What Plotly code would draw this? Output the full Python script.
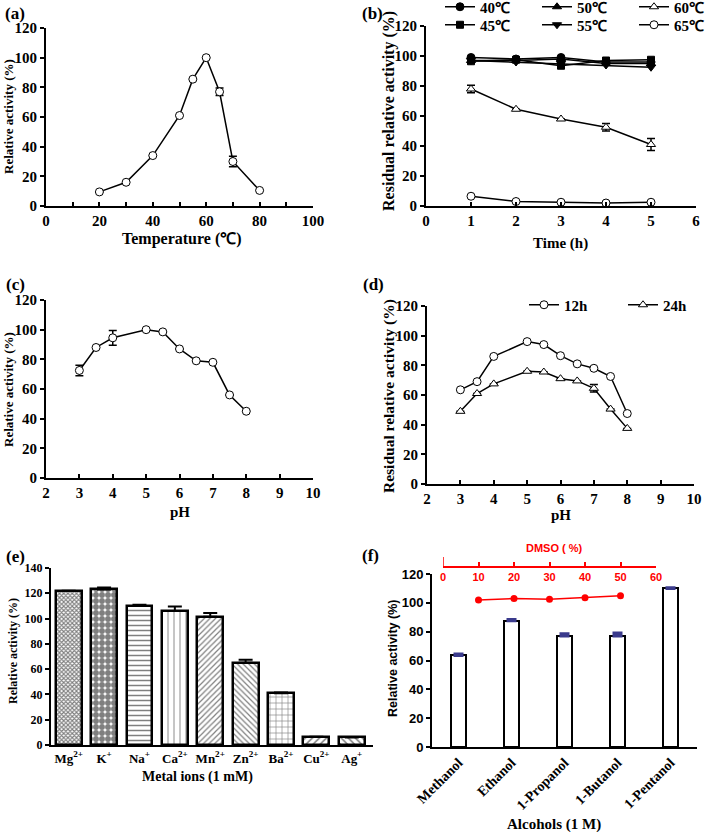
import plotly.graph_objects as go

W, H = 705, 832
def px(x):
    return x / W
def py(y):
    return 1 - y / H

SERIF = "Liberation Serif"
SANS = "Liberation Sans"

# ---------------- data ----------------
temp_x = [20, 30, 40, 50, 55, 60, 65, 70, 80]
temp_y = [9.5, 16, 34, 61, 85.5, 100, 77, 30, 10.5]
temp_err = [0, 0, 0, 0, 0, 0, 2.5, 3.5, 0]

time_h = [1, 2, 3, 4, 5]
stab_40 = [99, 98, 99, 96, 96]
stab_45 = [96.5, 97.5, 93.5, 97, 97.5]
stab_50 = [97, 97, 98, 95, 95]
stab_55 = [97, 96, 95, 94, 92.5]
stab_60 = [78, 64.5, 58, 52.5, 41]
stab_60_err = [2.5, 0, 0, 2.5, 4]
stab_65 = [6.5, 3, 2.5, 2, 2.5]

ph_x = [3, 3.5, 4, 5, 5.5, 6, 6.5, 7, 7.5, 8]
ph_act = [72.5, 88, 94.5, 100, 98.5, 87, 79, 78, 56, 45]
ph_act_err = [3.5, 0, 5, 0, 0, 0, 0, 0, 0, 0]
ph_12h = [63.5, 69, 86, 96, 94, 86.5, 81, 78, 72.5, 47.5]
ph_24h = [49, 61, 67.5, 76, 75.5, 71, 69.5, 64.5, 50.5, 37.5]
ph_24h_err = [0, 0, 0, 0, 0, 0, 0, 2.5, 0, 0]
ph_ticks = [2, 3, 4, 5, 6, 7, 8, 9, 10]

metal_labels = ["Mg<sup>2+</sup>", "K<sup>+</sup>", "Na<sup>+</sup>", "Ca<sup>2+</sup>",
                "Mn<sup>2+</sup>", "Zn<sup>2+</sup>", "Ba<sup>2+</sup>", "Cu<sup>2+</sup>",
                "Ag<sup>+</sup>"]
metal_act = [122, 123, 110, 106, 101.5, 65, 41, 6.5, 6]
metal_err = [0, 1.5, 1, 3.5, 3, 2.5, 0.5, 0, 0]

alcohols = ["Methanol", "Ethanol", "1-Propanol", "1-Butanol", "1-Pentanol"]
alcohol_act = [63.5, 87.5, 77, 77, 110]
alcohol_err = [1, 1, 1.5, 2, 0.5]

dmso_pct = [10, 20, 30, 40, 50]
dmso_act = [102, 103, 102.5, 103.5, 105]

# ---------------- figure ----------------
fig = go.Figure()

def err(arr, w=4, t=1.5, color="black", up_only=False):
    d = dict(type="data", array=arr, visible=True, color=color, thickness=t, width=w)
    if up_only:
        d.update(symmetric=False, arrayminus=[0] * len(arr))
    return d

LINE = dict(color="black", width=1.5)
def mk(symbol, fill, size=8):
    return dict(symbol=symbol, size=size, color=fill, line=dict(color="black", width=1))

# (a)
fig.add_trace(go.Scatter(x=temp_x, y=temp_y, mode="lines+markers", line=LINE,
                         marker=mk("circle", "white"), error_y=err(temp_err),
                         xaxis="x", yaxis="y", showlegend=False))

# (b)
series_b = [
    ("40℃", stab_40, "circle", "black", None, "legend"),
    ("50℃", stab_50, "triangle-up", "black", None, "legend"),
    ("60℃", stab_60, "triangle-up", "white", stab_60_err, "legend"),
    ("45℃", stab_45, "square", "black", None, "legend2"),
    ("55℃", stab_55, "triangle-down", "black", None, "legend2"),
    ("65℃", stab_65, "circle", "white", None, "legend2"),
]
for name, vals, sym, fill, e, lg in series_b:
    fig.add_trace(go.Scatter(x=time_h, y=vals, name=name, mode="lines+markers", line=LINE,
                             marker=mk(sym, fill, 8 if sym != "square" else 7),
                             error_y=err(e) if e else None,
                             xaxis="x2", yaxis="y2", legend=lg))

# (c)
fig.add_trace(go.Scatter(x=ph_x, y=ph_act, mode="lines+markers", line=LINE,
                         marker=mk("circle", "white"), error_y=err(ph_act_err),
                         xaxis="x3", yaxis="y3", showlegend=False))

# (d)
fig.add_trace(go.Scatter(x=ph_x, y=ph_12h, name="12h", mode="lines+markers", line=LINE,
                         marker=mk("circle", "white"), xaxis="x4", yaxis="y4", legend="legend3"))
fig.add_trace(go.Scatter(x=ph_x, y=ph_24h, name="24h", mode="lines+markers", line=LINE,
                         marker=mk("triangle-up", "white"), error_y=err(ph_24h_err),
                         xaxis="x4", yaxis="y4", legend="legend3"))

# (e)
fig.add_trace(go.Bar(x=metal_labels, y=metal_act, width=0.73,
                     marker=dict(color="white", line=dict(color="black", width=2.5),
                                 pattern=dict(shape=["x", ".", "-", "|", "/", "\\", "+", "/", "\\"],
                                              size=[3, 6, 5, 6, 4, 4, 6, 5, 5],
                                              solidity=[0.6, 0.75, 0.3, 0.15, 0.3, 0.3, 0.2, 0.3, 0.3],
                                              fgcolor="black", bgcolor="white")),
                     error_y=err(metal_err, w=7, t=2, up_only=True),
                     xaxis="x5", yaxis="y5", showlegend=False))

# (f)
fig.add_trace(go.Bar(x=alcohols, y=alcohol_act, width=0.30,
                     marker=dict(color="white", line=dict(color="black", width=2)),
                     error_y=err(alcohol_err, w=5, t=3, color="#3a3a8c", up_only=True),
                     xaxis="x6", yaxis="y6", showlegend=False))
fig.add_trace(go.Scatter(x=dmso_pct, y=dmso_act, mode="lines+markers",
                         line=dict(color="red", width=1.5),
                         marker=dict(symbol="circle", size=7, color="red"),
                         xaxis="x7", yaxis="y6", showlegend=False))

# ---------------- axes ----------------
def tfont(size=15, fam=SERIF, color="black"):
    return dict(family=fam, size=size, color=color, weight="bold")

base = dict(showline=True, linecolor="black", linewidth=2, showgrid=False, zeroline=False,
            ticks="inside", ticklen=4, tickwidth=1.5, tickcolor="black", mirror=False,
            automargin=False, ticklabeloverflow="allow")

def xax(x0, x1, anchor, rng, **kw):
    d = dict(base, domain=[px(x0), px(x1)], anchor=anchor, range=rng, tickfont=tfont())
    d.update(kw)
    return d

def yax(top, bot, anchor, rng, **kw):
    d = dict(base, domain=[py(bot), py(top)], anchor=anchor, range=rng, tickfont=tfont(),
             ticks="outside")
    d.update(kw)
    return d

fig.update_layout(
    xaxis=xax(46, 313, "y", [0, 100], dtick=20, minor=dict(dtick=10, ticks="inside", ticklen=4)),
    yaxis=yax(28, 206, "x", [0, 120], dtick=20),
    xaxis2=xax(426, 696, "y2", [0, 6], dtick=1),
    yaxis2=yax(26, 206, "x2", [0, 120], dtick=20),
    xaxis3=xax(46, 313, "y3", [2, 10], tickmode="array", tickvals=ph_ticks),
    yaxis3=yax(300, 478, "x3", [0, 120], dtick=20),
    xaxis4=xax(427, 694, "y4", [2, 10], tickmode="array", tickvals=ph_ticks),
    yaxis4=yax(306, 484, "x4", [0, 120], dtick=20),
    xaxis5=xax(51, 373, "y5", [-0.5, 8.6], type="category", ticks="", tickangle=0,
               tickfont=tfont(13)),
    yaxis5=yax(568, 745, "x5", [0, 140], dtick=20, tickfont=tfont(12)),
    xaxis6=xax(432, 697, "y6", [-0.5, 4.5], type="category", ticks="", tickangle=-45,
               tickfont=tfont(14)),
    yaxis6=yax(574, 747, "x6", [0, 120], dtick=20, tickfont=tfont(13, SANS)),
    xaxis7=dict(domain=[px(443), px(656)], anchor="free", position=py(567), range=[0, 60],
                tickvals=[0, 10, 20, 30, 40, 50, 60], showline=True, linecolor="red", linewidth=1.5,
                ticks="inside", ticklen=4, tickwidth=1.5, tickcolor="red", showgrid=False,
                zeroline=False, tickfont=tfont(11, SANS, "red"), side="bottom", automargin=False),
)

# ---------------- legends ----------------
lg_common = dict(orientation="h", xanchor="left", yanchor="middle", bgcolor="rgba(0,0,0,0)",
                 font=tfont(15), entrywidth=52, entrywidthmode="pixels", itemwidth=30,
                 tracegroupgap=0)
fig.update_layout(
    legend=dict(lg_common, x=px(440), y=py(7)),
    legend2=dict(lg_common, x=px(440), y=py(25)),
    legend3=dict(lg_common, x=px(524), y=py(305), entrywidth=54),
)

# ---------------- text ----------------
ann = []
def text(s, x, y, size=15, fam=SERIF, angle=0, color="black"):
    ann.append(dict(text=s, x=px(x), y=py(y), xref="paper", yref="paper", showarrow=False,
                    textangle=angle, font=tfont(size, fam, color), xanchor="center", yanchor="middle"))

text("Temperature (℃)", 182, 239, size=16)
text("Time (h)", 560, 243)
text("pH", 180, 512)
text("pH", 561, 515)
text("Metal ions (1 mM)", 197, 777, size=14)
text("Alcohols (1 M)", 554, 824)

text("Relative activity (%)", 8, 117, size=13, angle=-90)
text("Residual relative activity (%)", 389, 111, size=16, angle=-90)
text("Relative activity (%)", 8, 390, size=13, angle=-90)
text("Residual relative activity (%)", 389, 396, size=15.5, angle=-90)
text("Relative activity (%)", 13, 651, size=12, angle=-90)
text("Relative activity (%)", 393, 659, size=12.5, fam=SANS, angle=-90)

text("(a)", 15, 13, size=17)
text("(b)", 372, 13, size=17)
text("(c)", 15, 285, size=17)
text("(d)", 373, 285, size=17)
text("(e)", 15, 556, size=17)
text("(f)", 370, 555, size=17)

text("DMSO ( %)", 554, 548, size=11, fam=SANS, color="red")

fig.update_layout(
    annotations=ann,
    shapes=[dict(type="line", xref="x7", yref="paper", x0=0, x1=0,
                 y0=py(567), y1=py(557), line=dict(color="red", width=1.5))],
    width=W, height=H, margin=dict(l=0, r=0, t=0, b=0, autoexpand=False),
    paper_bgcolor="white", plot_bgcolor="rgba(0,0,0,0)", bargap=0,
)

fig.write_html("out.html", config={"displayModeBar": False},
               post_script="document.body.style.margin='0px';document.body.style.overflow='hidden';")
